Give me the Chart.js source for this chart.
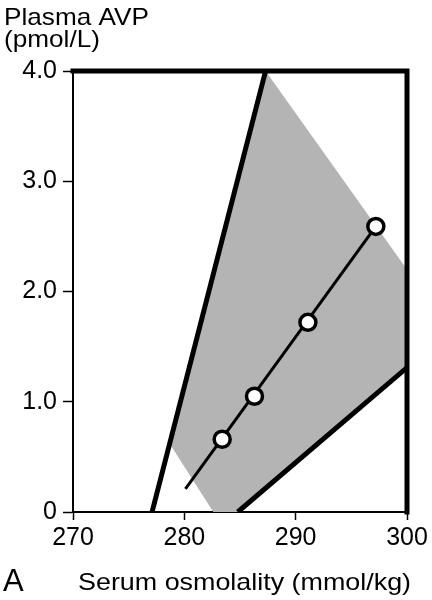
<!DOCTYPE html>
<html>
<head>
<meta charset="utf-8">
<script src="https://cdn.jsdelivr.net/npm/chart.js@4.4.0/dist/chart.umd.min.js"></script>
<style>
  html, body { margin: 0; padding: 0; background: #fff; }
  #wrap { width: 432px; height: 600px; position: relative; }
</style>
</head>
<body>
<div id="wrap"><canvas id="avpChart"></canvas></div>
<script>
// --- data ---
const osmolality = [283.4, 286.3, 291.1, 297.2];
const plasmaAVP = [0.66, 1.05, 1.72, 2.59];

const fitX = [280.1, 297.2];
const fitY = [0.21, 2.59];

const upperLimitX = [277.1, 287.3];
const upperLimitY = [0, 4.0];

const lowerLimitX = [284.8, 300];
const lowerLimitY = [0, 1.31];

const bandX = [287.3, 300, 300, 284.8, 282.6, 278.8, 287.3];
const bandY = [4.0, 2.2, 1.31, 0, 0, 0.6, 4.0];

const xTicks = [270, 280, 290, 300];
const yTicks = [0, 1, 2, 3, 4];

const FONT = '"Liberation Sans", Arial, Helvetica, sans-serif';

function pts(xs, ys) {
    return xs.map((x, i) => ({ x: x, y: ys[i] }));
}

// frame + free text
const decorPlugin = {
    id: 'decor',
    afterDatasetsDraw(chart) {
        const { ctx, chartArea: a } = chart;
        ctx.save();
        ctx.strokeStyle = '#000';
        ctx.lineCap = 'square';
        ctx.lineWidth = 5;
        ctx.beginPath();
        ctx.moveTo(a.left, a.top);
        ctx.lineTo(a.right, a.top);
        ctx.lineTo(a.right, a.bottom);
        ctx.stroke();
        ctx.restore();
    },
    afterDraw(chart) {
        const ctx = chart.ctx;
        ctx.save();
        ctx.fillStyle = '#000';
        ctx.textBaseline = 'alphabetic';
        ctx.textAlign = 'left';

        function stretched(text, x, y, size, sx) {
            ctx.save();
            ctx.font = size + 'px ' + FONT;
            ctx.translate(x, y);
            ctx.scale(sx, 1);
            ctx.fillText(text, 0, 0);
            ctx.restore();
        }
        stretched('Plasma AVP', 4, 25, 24, 1.09);
        stretched('(pmol/L)', 4, 47, 24, 1.09);
        stretched('A', 3, 591, 31, 1.0);
        stretched('Serum osmolality (mmol/kg)', 78, 590, 24, 1.12);
        ctx.restore();
    }
};

const ctx = document.getElementById('avpChart');

new Chart(ctx, {
    type: 'line',
    data: {
        datasets: [
            {
                label: 'points',
                data: pts(osmolality, plasmaAVP),
                showLine: false,
                pointRadius: 8,
                pointBorderWidth: 3.5,
                pointBackgroundColor: '#fff',
                pointBorderColor: '#000',
                order: 0
            },
            {
                label: 'fit',
                data: pts(fitX, fitY),
                borderColor: '#000',
                borderWidth: 3,
                pointRadius: 0,
                order: 1
            },
            {
                label: 'upper',
                data: pts(upperLimitX, upperLimitY),
                borderColor: '#000',
                borderWidth: 5,
                pointRadius: 0,
                order: 2
            },
            {
                label: 'lower',
                data: pts(lowerLimitX, lowerLimitY),
                borderColor: '#000',
                borderWidth: 5,
                pointRadius: 0,
                order: 2
            },
            {
                label: 'band',
                data: pts(bandX, bandY),
                borderWidth: 0,
                borderColor: 'rgba(0,0,0,0)',
                backgroundColor: '#b4b4b4',
                fill: 'shape',
                pointRadius: 0,
                order: 3
            }
        ]
    },
    options: {
        responsive: true,
        maintainAspectRatio: false,
        animation: false,
        layout: { padding: { top: 71, right: 25, left: 0, bottom: 0 } },
        plugins: {
            legend: { display: false },
            tooltip: { enabled: false }
        },
        scales: {
            x: {
                type: 'linear',
                min: 270, max: 300,
                afterBuildTicks: (s) => { s.ticks = xTicks.map(v => ({ value: v })); },
                afterFit: (s) => { s.height = 88; },
                border: { display: true, color: '#000', width: 2 },
                grid: { display: true, drawOnChartArea: false, tickLength: 8, tickColor: '#000', tickWidth: 1.5 },
                ticks: { color: '#000', font: { family: FONT, size: 25 }, padding: 3, maxRotation: 0 }
            },
            y: {
                type: 'linear',
                min: 0, max: 4,
                afterBuildTicks: (s) => { s.ticks = yTicks.map(v => ({ value: v })); },
                afterFit: (s) => { s.width = 73; },
                border: { display: true, color: '#000', width: 2 },
                grid: { display: true, drawOnChartArea: false, tickLength: 10, tickColor: '#000', tickWidth: 1.5 },
                ticks: {
                    color: '#000',
                    font: { family: FONT, size: 25 },
                    padding: 6,
                    callback: (v) => v === 0 ? '0' : v.toFixed(1)
                }
            }
        }
    },
    plugins: [decorPlugin]
});
</script>
</body>
</html>
